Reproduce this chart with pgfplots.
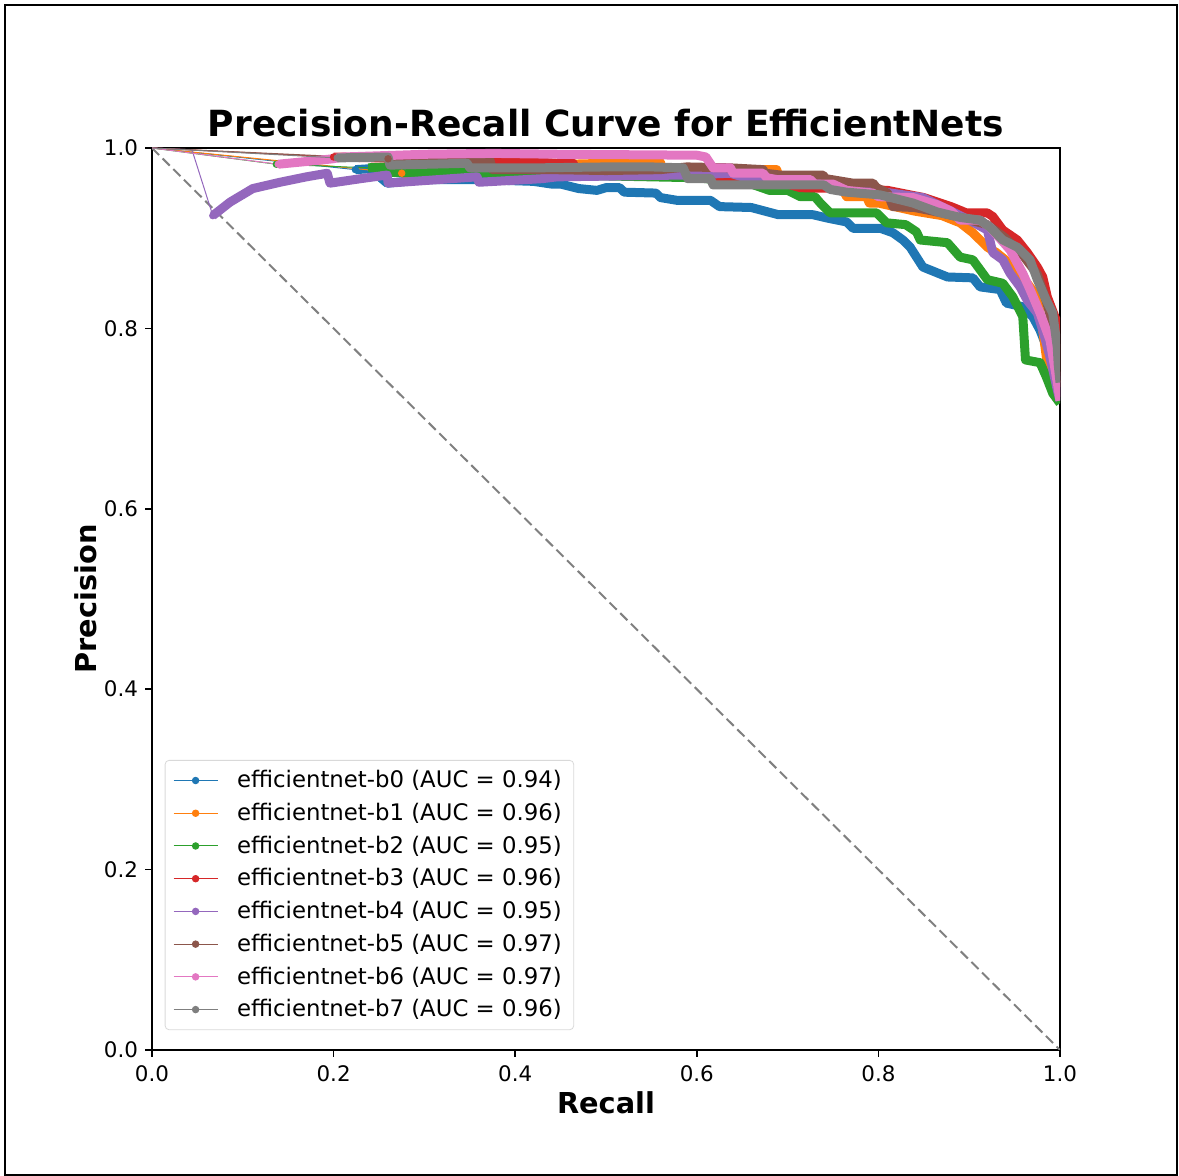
\documentclass[border=0pt]{standalone}
\usepackage{pgfplots}
\pgfplotsset{compat=1.18}
\usepackage{fontspec}
\setmainfont{DejaVu Sans}
\definecolor{c0}{HTML}{1F77B4}
\definecolor{c1}{HTML}{FF7F0E}
\definecolor{c2}{HTML}{2CA02C}
\definecolor{c3}{HTML}{D62728}
\definecolor{c4}{HTML}{9467BD}
\definecolor{c5}{HTML}{8C564B}
\definecolor{c6}{HTML}{E377C2}
\definecolor{c7}{HTML}{7F7F7F}
\begin{document}
\begin{tikzpicture}
\useasboundingbox (0,0) rectangle (589.5pt,588pt);
\draw[line width=1pt] (2.5pt,0.5pt) rectangle (588.5pt,585.5pt);
\begin{axis}[
  at={(76pt,63pt)}, anchor=south west,
  scale only axis, width=454pt, height=451pt,
  xmin=0, xmax=1, ymin=0, ymax=1,
  xtick={0,0.2,0.4,0.6,0.8,1.0}, ytick={0,0.2,0.4,0.6,0.8,1.0},
  tick pos=left, tick align=outside, major tick length=3.5pt,
  every tick/.style={black, line width=0.8pt},
  axis line style={line width=0.8pt},
  /pgf/number format/assume math mode=true,
  /pgf/number format/fixed, /pgf/number format/fixed zerofill, /pgf/number format/precision=1,
  ticklabel style={font=\fontsize{10.7}{12}\selectfont},
  xticklabel style={yshift=-1pt},
  title={Precision-Recall Curve for EfficientNets},
  title style={at={(axis description cs:0.5,1)}, anchor=base, yshift=-0.5pt, font=\fontsize{18}{21}\selectfont\bfseries},
  xlabel={Recall}, ylabel={Precision},
  xlabel style={at={(axis description cs:0.5,-0.070)}, anchor=base, font=\fontsize{14.4}{17}\selectfont\bfseries},
  ylabel style={at={(axis description cs:-0.0606,0.5)}, anchor=base, font=\fontsize{14.4}{17}\selectfont\bfseries},
  legend style={at={(axis cs:0.014,0.022)}, anchor=south west, draw=black!15, rounded corners=2pt,
    font=\fontsize{11.4}{13.5}\selectfont, row sep=2.2pt, column sep=7.5pt, inner xsep=4pt, inner ysep=3pt},
  legend cell align=left,
  legend image code/.code={\draw[#1] plot coordinates {(0pt,0pt) (11pt,0pt) (22pt,0pt)};},
]
\addplot[gray, line width=1pt, dash pattern=on 5pt off 2.5pt, forget plot] coordinates {(0,1) (1,0)};

% b0
\addplot[c0, line width=0.5pt, mark=*, mark size=1.6pt, mark indices={2}] coordinates {(0,1) (0.224,0.976)};
\addlegendentry{efficientnet-b0 (AUC = 0.94)}
\addplot[c0, line width=4.5pt, line join=round, forget plot] coordinates {
(0.224,0.976)(0.240,0.977)(0.259,0.961)(0.30,0.965)(0.36,0.965)(0.42,0.963)(0.44,0.960)(0.45,0.960)(0.47,0.955)(0.49,0.953)
(0.50,0.956)(0.515,0.956)(0.52,0.951)(0.555,0.950)(0.56,0.945)(0.578,0.942)(0.615,0.942)(0.625,0.935)(0.66,0.934)
(0.69,0.926)(0.728,0.926)(0.745,0.922)(0.765,0.918)(0.772,0.911)(0.802,0.911)(0.816,0.906)(0.827,0.898)(0.835,0.890)
(0.849,0.868)(0.876,0.857)(0.904,0.856)(0.912,0.846)(0.934,0.843)(0.941,0.828)(0.959,0.824)(0.970,0.813)(0.978,0.798)
(0.985,0.780)(0.992,0.757)(0.997,0.740)(1.0,0.725)};

% b1
\addplot[c1, line width=0.5pt, mark=*, mark size=1.6pt, mark indices={2}] coordinates {(0,1) (0.275,0.972)};
\addlegendentry{efficientnet-b1 (AUC = 0.96)}
\addplot[c1, line width=4.5pt, line join=round, forget plot] coordinates {
(0.275,0.972)(0.30,0.973)(0.34,0.974)(0.40,0.976)(0.44,0.977)(0.46,0.982)(0.50,0.983)(0.56,0.984)(0.562,0.976)(0.59,0.974)
(0.63,0.973)(0.673,0.976)(0.688,0.976)(0.69,0.970)(0.72,0.962)(0.76,0.955)(0.765,0.946)(0.787,0.946)(0.79,0.939)(0.80,0.939)
(0.84,0.930)(0.87,0.925)(0.89,0.917)(0.904,0.906)(0.92,0.890)(0.93,0.884)(0.953,0.865)(0.975,0.835)(0.981,0.798)
(0.985,0.768)(0.991,0.746)(1,0.735)};

% b2
\addplot[c2, line width=0.5pt, mark=*, mark size=1.6pt, mark indices={2}] coordinates {(0,1) (0.137,0.982) (0.238,0.978)};
\addlegendentry{efficientnet-b2 (AUC = 0.95)}
\addplot[c2, line width=4.5pt, line join=round, forget plot] coordinates {
(0.238,0.978)(0.258,0.979)(0.26,0.973)(0.34,0.973)(0.361,0.972)(0.398,0.972)(0.45,0.970)(0.50,0.969)(0.55,0.968)(0.60,0.967)
(0.62,0.965)(0.66,0.960)(0.68,0.953)(0.70,0.953)(0.714,0.946)(0.73,0.946)(0.736,0.939)(0.747,0.928)(0.798,0.928)
(0.809,0.917)(0.83,0.915)(0.842,0.907)(0.846,0.898)(0.876,0.895)(0.89,0.879)(0.904,0.876)(0.912,0.865)(0.92,0.854)
(0.937,0.850)(0.948,0.835)(0.959,0.813)(0.962,0.765)(0.978,0.762)(0.985,0.746)(0.992,0.728)(1,0.717)};

% b3
\addplot[c3, line width=0.5pt, mark=*, mark size=1.6pt, mark indices={2}] coordinates {(0,1) (0.20,0.990)};
\addlegendentry{efficientnet-b3 (AUC = 0.96)}
\addplot[c3, line width=4.5pt, line join=round, forget plot] coordinates {
(0.20,0.990)(0.30,0.988)(0.40,0.986)(0.446,0.983)(0.464,0.983)(0.466,0.972)(0.60,0.972)(0.604,0.967)(0.655,0.967)(0.66,0.962)
(0.70,0.960)(0.714,0.956)(0.76,0.955)(0.81,0.953)(0.85,0.945)(0.88,0.935)(0.897,0.928)(0.92,0.928)(0.926,0.924)(0.937,0.909)
(0.953,0.898)(0.964,0.884)(0.975,0.868)(0.981,0.857)(0.986,0.835)(0.997,0.806)(1,0.724)};

% b4
\addplot[c4, line width=0.5pt, forget plot] coordinates {(0,1) (0.044,0.998)};
\addplot[c4, line width=0.5pt, mark=*, mark size=1.6pt, mark indices={2}] coordinates {(0.044,0.998) (0.067,0.925)};
\addlegendentry{efficientnet-b4 (AUC = 0.95)}
\addplot[c4, line width=4.5pt, line join=round, forget plot] coordinates {
(0.067,0.925)(0.086,0.940)(0.111,0.955)(0.141,0.962)(0.17,0.968)(0.193,0.972)(0.196,0.961)(0.23,0.966)(0.259,0.970)(0.260,0.961)
(0.33,0.966)(0.358,0.968)(0.36,0.962)(0.43,0.966)(0.446,0.968)(0.585,0.970)(0.637,0.972)(0.65,0.968)(0.70,0.966)(0.75,0.960)
(0.80,0.952)(0.849,0.945)(0.88,0.930)(0.90,0.920)(0.92,0.909)(0.926,0.884)(0.937,0.876)(0.945,0.861)(0.956,0.846)
(0.964,0.831)(0.975,0.817)(0.981,0.798)(0.989,0.768)(0.997,0.732)(1,0.72)};

% b5
\addplot[c5, line width=0.5pt, mark=*, mark size=1.6pt, mark indices={2}] coordinates {(0,1) (0.26,0.988)};
\addlegendentry{efficientnet-b5 (AUC = 0.97)}
\addplot[c5, line width=4.5pt, line join=round, forget plot] coordinates {
(0.26,0.988)(0.348,0.987)(0.372,0.987)(0.375,0.976)(0.44,0.976)(0.50,0.975)(0.56,0.976)(0.589,0.979)(0.636,0.978)(0.673,0.976)
(0.675,0.972)(0.692,0.970)(0.739,0.970)(0.742,0.966)(0.772,0.961)(0.794,0.961)(0.798,0.956)(0.81,0.950)(0.816,0.935)
(0.84,0.934)(0.87,0.928)(0.89,0.923)(0.92,0.915)(0.94,0.900)(0.96,0.880)(0.975,0.860)(0.985,0.830)(0.993,0.80)(1,0.74)};

% b6
\addplot[c6, line width=0.5pt, mark=*, mark size=1.6pt, mark indices={2}] coordinates {(0,1) (0.139,0.982)};
\addlegendentry{efficientnet-b6 (AUC = 0.97)}
\addplot[c6, line width=4.5pt, line join=round, forget plot] coordinates {
(0.139,0.982)(0.17,0.985)(0.199,0.988)(0.21,0.990)(0.30,0.993)(0.376,0.994)(0.45,0.993)(0.60,0.992)(0.61,0.990)(0.618,0.978)
(0.637,0.978)(0.64,0.972)(0.673,0.972)(0.677,0.967)(0.688,0.965)(0.725,0.965)(0.73,0.960)(0.75,0.960)(0.765,0.953)
(0.794,0.950)(0.80,0.946)(0.838,0.945)(0.865,0.937)(0.88,0.930)(0.89,0.920)(0.912,0.920)(0.923,0.912)(0.945,0.887)
(0.959,0.861)(0.967,0.843)(0.978,0.817)(0.989,0.787)(0.997,0.740)(1,0.72)};

% b7
\addplot[c7, line width=0.5pt, mark=*, mark size=1.6pt, mark indices={2}] coordinates {(0,1) (0.204,0.989)};
\addlegendentry{efficientnet-b7 (AUC = 0.96)}
\addplot[c7, line width=4.5pt, line join=round, forget plot] coordinates {
(0.204,0.989)(0.26,0.990)(0.262,0.981)(0.347,0.983)(0.35,0.978)(0.427,0.978)(0.50,0.979)(0.55,0.979)(0.585,0.978)(0.59,0.966)
(0.615,0.966)(0.618,0.959)(0.655,0.959)(0.74,0.959)(0.747,0.954)(0.765,0.951)(0.802,0.948)(0.838,0.939)(0.865,0.929)
(0.89,0.923)(0.912,0.920)(0.923,0.912)(0.937,0.898)(0.953,0.890)(0.967,0.876)(0.975,0.854)(0.985,0.831)(0.992,0.817)
(0.997,0.779)(0.998,0.76)(1,0.74)};
\end{axis}
\end{tikzpicture}
\end{document}
